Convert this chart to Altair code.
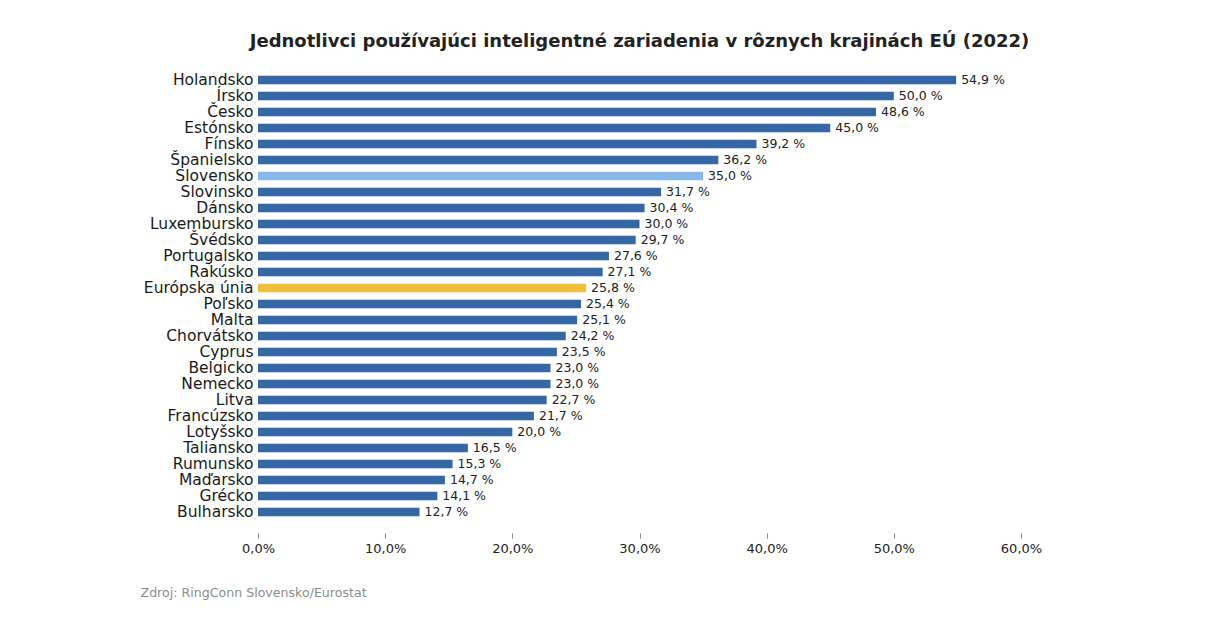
import altair as alt
import pandas as pd

countries = ["Holandsko", "Írsko", "Česko", "Estónsko", "Fínsko", "Španielsko", "Slovensko",
             "Slovinsko", "Dánsko", "Luxembursko", "Švédsko", "Portugalsko", "Rakúsko",
             "Európska únia", "Poľsko", "Malta", "Chorvátsko", "Cyprus", "Belgicko", "Nemecko",
             "Litva", "Francúzsko", "Lotyšsko", "Taliansko", "Rumunsko", "Maďarsko", "Grécko",
             "Bulharsko"]
values = [54.9, 50.0, 48.6, 45.0, 39.2, 36.2, 35.0, 31.7, 30.4, 30.0, 29.7, 27.6, 27.1,
          25.8, 25.4, 25.1, 24.2, 23.5, 23.0, 23.0, 22.7, 21.7, 20.0, 16.5, 15.3, 14.7,
          14.1, 12.7]
groups = ["krajina"] * len(countries)
groups[countries.index("Slovensko")] = "Slovensko"
groups[countries.index("Európska únia")] = "EU"
x_ticks = [0, 10, 20, 30, 40, 50, 60]

df = pd.DataFrame({
    "krajina": countries,
    "hodnota": values,
    "skupina": groups,
    "popis": [f"{v:.1f}".replace(".", ",") + " %" for v in values],
})

W, H = 763, 448

base = alt.Chart(df).encode(
    y=alt.Y("krajina:N", sort=countries, title=None,
            scale=alt.Scale(paddingInner=0.48, paddingOuter=0.24),
            axis=alt.Axis(domain=False, ticks=False, labelPadding=5, labelFontSize=15.5,
                          labelColor="#1a1a1a", labelFont="DejaVu Sans")),
)

bars = base.mark_bar().encode(
    x=alt.X("hodnota:Q", scale=alt.Scale(domain=[0, 60]),
            title="Zdroj: RingConn Slovensko/Eurostat",
            axis=alt.Axis(values=x_ticks, grid=False, domain=False, offset=13, tickSize=5,
                          tickColor="#666", tickWidth=0.8, labelPadding=4,
                          labelFlush=False, labelAlign="center",
                          labelFontSize=13, labelColor="#222",
                          labelFont="DejaVu Sans",
                          labelExpr="replace(format(datum.value, '.1f'), '.', ',') + '%'",
                          titleX=-118, titleY=59, titleAlign="left", titleAnchor="start",
                          titleBaseline="middle", titleFontWeight="normal", titleFontSize=12.6,
                          titleColor="#8c8c8c", titleFont="DejaVu Sans")),
    color=alt.Color("skupina:N", legend=None,
                    scale=alt.Scale(domain=["krajina", "Slovensko", "EU"],
                                    range=["#3567a5", "#86b9e9", "#f0be3a"])),
)

labels = base.mark_text(align="left", baseline="middle", dx=5, fontSize=12.5,
                        font="DejaVu Sans", color="#222").encode(
    x=alt.X("hodnota:Q"),
    text="popis:N",
)

chart = (bars + labels).properties(
    width=W, height=H,
    title=alt.TitleParams(
        "Jednotlivci používajúci inteligentné zariadenia v rôznych krajinách EÚ (2022)",
        fontSize=18, fontWeight="bold", font="DejaVu Sans",
        color="#222", anchor="middle", offset=21),
    autosize=alt.AutoSizeParams(type="none"),
    padding={"left": 250, "top": 64, "right": 180, "bottom": 89},
).configure(background="white", view=alt.ViewConfig(strokeWidth=0, stroke="transparent"))

chart.save("out.html", embed_options={"renderer": "svg", "actions": False})
